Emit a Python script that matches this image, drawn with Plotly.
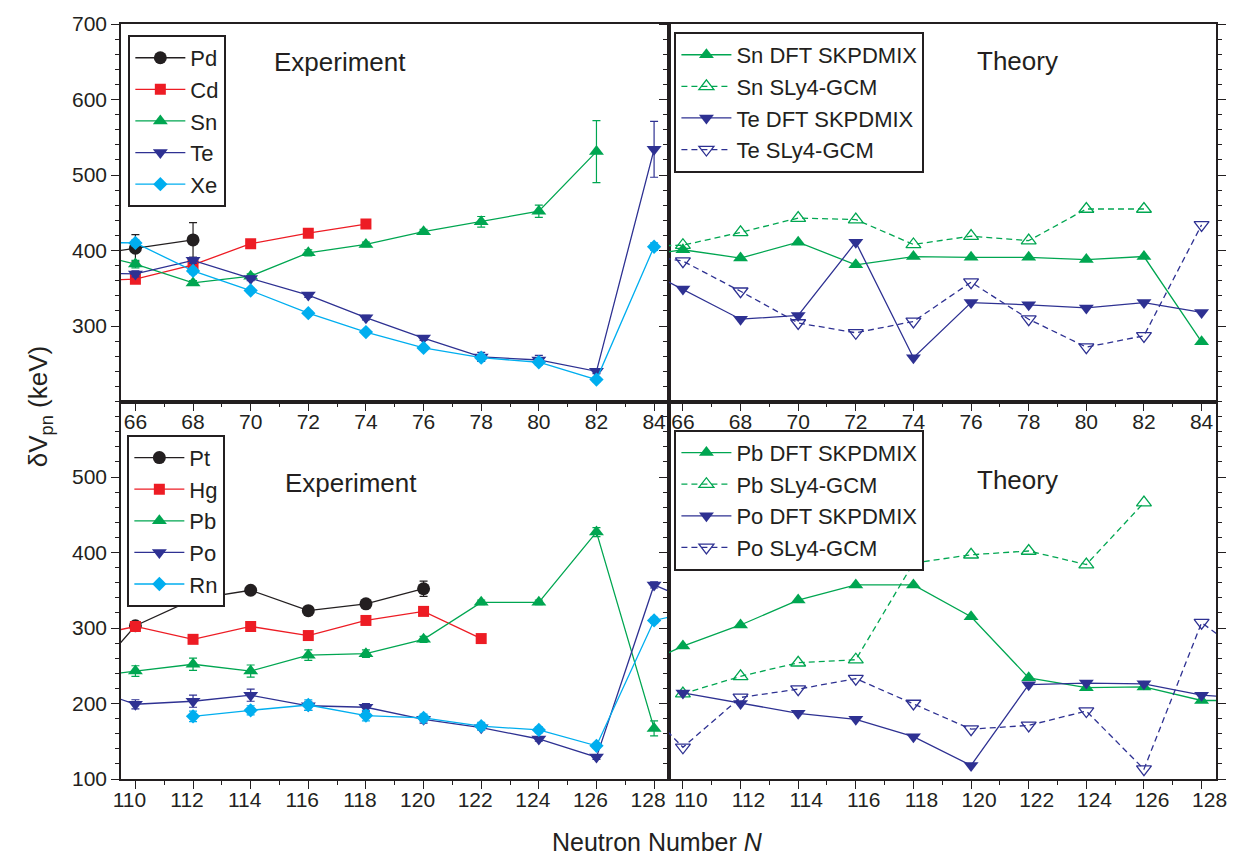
import plotly.graph_objects as go
from plotly.subplots import make_subplots

# ---------------- data ----------------
# top row: neutron numbers 64..84 (64 lies just outside the axis; only its line segment shows)
N_pd = [64, 66, 68]
pd_v = [392, 403, 414]
pd_e = [0, 18, 23]

N_cd = [64, 66, 68, 70, 72, 74]
cd_v = [360, 362, 381, 409, 423, 435]
cd_e = [0, 3, 3, 3, 3, 3]

N_sn = [64, 66, 68, 70, 72, 74, 76, 78, 80, 82]
sn_v = [400, 382, 357, 366, 397, 408, 425, 438, 452, 531]
sn_e = [0, 5, 3, 3, 4, 3, 3, 7, 8, 41]

N_te = [64, 66, 68, 70, 72, 74, 76, 78, 80, 82, 84]
te_v = [370, 369, 387, 363, 341, 311, 284, 259, 255, 240, 534]
te_e = [0, 4, 4, 3, 3, 3, 3, 6, 6, 3, 37]

N_xe = [64, 66, 68, 70, 72, 74, 76, 78, 80, 82, 84]
xe_v = [411, 410, 373, 347, 317, 292, 271, 258, 252, 229, 405]
xe_e = [0, 4, 4, 3, 3, 3, 3, 4, 4, 3, 5]

N_sn_dft = [64, 66, 68, 70, 72, 74, 76, 78, 80, 82, 84]
sn_dft = [390, 401, 390, 411, 381, 392, 391, 391, 388, 392, 279]
N_sn_gcm = [64, 66, 68, 70, 72, 74, 76, 78, 80, 82]
sn_gcm = [405, 407, 424, 443, 441, 408, 419, 413, 455, 455]
N_te_dft = [64, 66, 68, 70, 72, 74, 76, 78, 80, 82, 84]
te_dft = [388, 349, 309, 314, 411, 258, 331, 328, 324, 331, 318]
N_te_gcm = [64, 66, 68, 70, 72, 74, 76, 78, 80, 82, 84]
te_gcm = [398, 386, 346, 304, 291, 306, 358, 309, 272, 287, 434]

# bottom row: neutron numbers 108..130 (108 / 130 only show as line stubs)
N_pt = [108, 110, 112, 114, 116, 118, 120]
pt_v = [215, 303, 338, 350, 323, 332, 352]
pt_e = [0, 0, 0, 4, 3, 3, 10]

N_hg = [108, 110, 112, 114, 116, 118, 120, 122]
hg_v = [286, 302, 285, 302, 290, 310, 322, 286]
hg_e = [0, 3, 3, 3, 3, 3, 3, 3]

N_pb = [108, 110, 112, 114, 116, 118, 120, 122, 124, 126, 128]
pb_v = [233, 243, 252, 243, 264, 266, 285, 334, 334, 427, 167]
pb_e = [0, 7, 8, 8, 7, 5, 4, 3, 3, 6, 10]

N_po = [108, 110, 112, 114, 116, 118, 120, 122, 124, 126, 128, 130]
po_v = [225, 199, 203, 211, 197, 195, 179, 168, 153, 129, 357, 325]
po_e = [0, 6, 8, 8, 6, 5, 5, 3, 3, 3, 4, 0]

N_rn = [112, 114, 116, 118, 120, 122, 124, 126, 128, 130]
rn_v = [183, 191, 198, 184, 181, 170, 165, 144, 310, 327]
rn_e = [7, 6, 7, 7, 5, 5, 4, 3, 4, 0]

N_pb_dft = [108, 110, 112, 114, 116, 118, 120, 122, 124, 126, 128, 130]
pb_dft = [241, 276, 304, 337, 357, 357, 315, 234, 221, 222, 204, 204]
N_pb_gcm = [110, 112, 114, 116, 118, 120, 122, 124, 126]
pb_gcm = [213, 236, 254, 258, 386, 397, 402, 384, 466]
N_po_dft = [110, 112, 114, 116, 118, 120, 122, 124, 126, 128, 130]
po_dft = [214, 200, 187, 179, 156, 118, 225, 227, 226, 211, 206]
N_po_gcm = [108, 110, 112, 114, 116, 118, 120, 122, 124, 126, 128, 130]
po_gcm = [220, 142, 208, 219, 233, 200, 166, 171, 190, 113, 307, 251]

top_ticks_y = [300, 400, 500, 600, 700]
bot_ticks_y = [100, 200, 300, 400, 500]

# ---------------- style ----------------
BLACK = '#231f20'
RED = '#ed1c24'
GREEN = '#00a651'
NAVY = '#2e3192'
CYAN = '#00aeef'
FONT = 'Liberation Sans, Arial, sans-serif'
LW = 1.3

fig = make_subplots(rows=2, cols=2, horizontal_spacing=0, vertical_spacing=0)


def exp_trace(x, y, e, name, color, symbol, size, legend, row, col):
    fig.add_trace(go.Scatter(
        x=x, y=y, name=name, mode='lines+markers', legend=legend,
        line=dict(color=color, width=LW),
        marker=dict(symbol=symbol, size=size, color=color, line=dict(width=0)),
        error_y=dict(type='data', array=e, color=color, thickness=1.2, width=4),
    ), row=row, col=col)


def th_trace(x, y, name, color, symbol, dashed, legend, row, col):
    fig.add_trace(go.Scatter(
        x=x, y=y, name=name, mode='lines+markers', legend=legend,
        line=dict(color=color, width=LW, dash='6px,4px' if dashed else 'solid'),
        marker=dict(symbol=symbol, size=13, color=color,
                    line=dict(width=1.3 if dashed else 0, color=color)),
    ), row=row, col=col)


exp_trace(N_pd, pd_v, pd_e, 'Pd', BLACK, 'circle', 13, 'legend', 1, 1)
exp_trace(N_cd, cd_v, cd_e, 'Cd', RED, 'square', 11, 'legend', 1, 1)
exp_trace(N_sn, sn_v, sn_e, 'Sn', GREEN, 'triangle-up', 13, 'legend', 1, 1)
exp_trace(N_te, te_v, te_e, 'Te', NAVY, 'triangle-down', 13, 'legend', 1, 1)
exp_trace(N_xe, xe_v, xe_e, 'Xe', CYAN, 'diamond', 11, 'legend', 1, 1)

th_trace(N_sn_dft, sn_dft, 'Sn DFT SKPDMIX', GREEN, 'triangle-up', False, 'legend2', 1, 2)
th_trace(N_sn_gcm, sn_gcm, 'Sn SLy4-GCM', GREEN, 'triangle-up-open', True, 'legend2', 1, 2)
th_trace(N_te_dft, te_dft, 'Te DFT SKPDMIX', NAVY, 'triangle-down', False, 'legend2', 1, 2)
th_trace(N_te_gcm, te_gcm, 'Te SLy4-GCM', NAVY, 'triangle-down-open', True, 'legend2', 1, 2)

exp_trace(N_pt, pt_v, pt_e, 'Pt', BLACK, 'circle', 13, 'legend3', 2, 1)
exp_trace(N_hg, hg_v, hg_e, 'Hg', RED, 'square', 11, 'legend3', 2, 1)
exp_trace(N_pb, pb_v, pb_e, 'Pb', GREEN, 'triangle-up', 13, 'legend3', 2, 1)
exp_trace(N_po, po_v, po_e, 'Po', NAVY, 'triangle-down', 13, 'legend3', 2, 1)
exp_trace(N_rn, rn_v, rn_e, 'Rn', CYAN, 'diamond', 11, 'legend3', 2, 1)

th_trace(N_pb_dft, pb_dft, 'Pb DFT SKPDMIX', GREEN, 'triangle-up', False, 'legend4', 2, 2)
th_trace(N_pb_gcm, pb_gcm, 'Pb SLy4-GCM', GREEN, 'triangle-up-open', True, 'legend4', 2, 2)
th_trace(N_po_dft, po_dft, 'Po DFT SKPDMIX', NAVY, 'triangle-down', False, 'legend4', 2, 2)
th_trace(N_po_gcm, po_gcm, 'Po SLy4-GCM', NAVY, 'triangle-down-open', True, 'legend4', 2, 2)

tickfont = dict(family=FONT, size=21, color=BLACK)
axis_common = dict(showline=True, linecolor=BLACK, linewidth=1.5, mirror=True,
                   showgrid=False, zeroline=False, ticks='outside', ticklen=8,
                   tickwidth=1.3, tickcolor=BLACK, tickfont=tickfont)

# x axes
shifts = {(1, 1): 0, (1, 2): 0, (2, 1): -6, (2, 2): 8}
for (r, c), sh in shifts.items():
    if r == 1:
        rng, t0 = [65.5, 84.5], 66
    else:
        rng, t0 = [109.5, 128.5], 110
    fig.update_xaxes(range=rng, tick0=t0, dtick=2, tickmode='linear',
                     minor=dict(dtick=1, tick0=t0, ticks='outside', ticklen=4,
                                tickwidth=1.2, tickcolor=BLACK),
                     ticklabelstandoff=-7, ticklabelshift=sh,
                     row=r, col=c, **axis_common)

# y axes
for r in (1, 2):
    rng = [200, 700] if r == 1 else [100, 600]
    tv = top_ticks_y if r == 1 else bot_ticks_y
    for c in (1, 2):
        fig.update_yaxes(range=rng, tickmode='array', tickvals=tv,
                         showticklabels=(c == 1),
                         minor=dict(dtick=20, tick0=0, ticks='outside', ticklen=4,
                                    tickwidth=1.2, tickcolor=BLACK),
                         row=r, col=c, **axis_common)
        if c == 2:
            fig.update_yaxes(mirror='allticks', row=r, col=c)

leg_common = dict(font=dict(family=FONT, size=22, color=BLACK), bgcolor='white',
                  bordercolor=BLACK, borderwidth=2, xanchor='left', yanchor='top',
                  itemwidth=50, tracegroupgap=0)

fig.update_layout(
    width=1239, height=857, autosize=False,
    margin=dict(l=121, r=23, t=20, b=78),
    paper_bgcolor='white', plot_bgcolor='white',
    font=dict(family=FONT, color=BLACK),
    legend=dict(x=0.0067, y=0.9855, **leg_common),
    legend2=dict(x=0.5054, y=0.9895, **leg_common),
    legend3=dict(x=0.0058, y=0.4559, **leg_common),
    legend4=dict(x=0.5054, y=0.4625, **leg_common),
)

ann_font = dict(family=FONT, size=26, color=BLACK)
for txt, x, y in [('Experiment', 0.2002, 0.950), ('Theory', 0.8185, 0.951),
                  ('Experiment', 0.2103, 0.3926), ('Theory', 0.8185, 0.3966)]:
    fig.add_annotation(text=txt, x=x, y=y, xref='paper', yref='paper',
                       showarrow=False, xanchor='center', yanchor='middle', font=ann_font)

fig.add_annotation(text='Neutron Number <i>N</i>', x=0.4898, y=-0.083,
                   xref='paper', yref='paper', showarrow=False,
                   xanchor='center', yanchor='middle',
                   font=dict(family=FONT, size=25, color=BLACK))
fig.add_annotation(text='δV<sub>pn</sub> (keV)', x=-0.0737, y=0.4928,
                   xref='paper', yref='paper', showarrow=False, textangle=-90,
                   xanchor='center', yanchor='middle', font=ann_font)

fig.write_html('out.html')
